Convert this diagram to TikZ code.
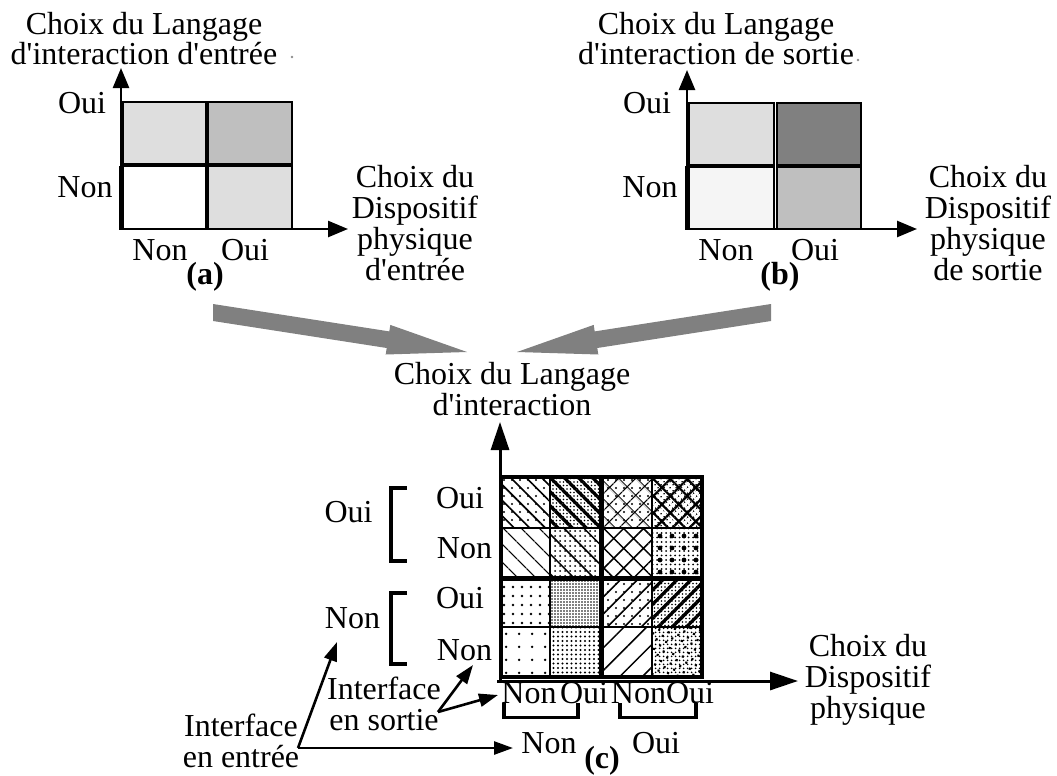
\documentclass[tikz,border=0pt]{standalone}
\usepackage{fontspec}
\setmainfont[Ligatures=TeXOff]{Liberation Serif}
\usetikzlibrary{arrows.meta,patterns.meta}
\begin{document}
\begin{tikzpicture}[x=1pt,y=-1pt,
  lbl/.style={font=\fontsize{32}{31}\selectfont, inner sep=0pt, anchor=base, align=center},
  blbl/.style={lbl, font=\fontsize{32}{31}\selectfont\bfseries},
  cellbox/.style={draw=black, line width=1.6pt},
  axisab/.style={line width=2.5pt, -{Triangle[length=20pt,width=16pt]}},
  axisc/.style={line width=3pt, -{Triangle[length=28pt,width=18pt]}},
  sarrow/.style={line width=2.6pt, -{Triangle[length=19pt,width=13pt]}},
  bigarrow/.style={fill=black!50},
  brk/.style={line width=4.5pt, line join=miter}
]
\useasboundingbox (0,0) rectangle (1057,776);

% ---------- panel (a) ----------
\coordinate (ao) at (121,229);
\coordinate (ay) at (121,68);
\coordinate (ax) at (348,229);
\draw[axisab] (ao) -- (ay);
\draw[line width=4pt] (121,166) -- (121,230);
\draw[axisab] (ao) -- (ax);
\filldraw[cellbox, fill=black!13] (123,102) rectangle (206,164);
\filldraw[cellbox, fill=black!25] (208,102) rectangle (292,164);
\filldraw[cellbox, fill=white]    (123,166) rectangle (206,229);
\filldraw[cellbox, fill=black!13] (208,166) rectangle (292,229);
\node[lbl] (aOui) at (82,113) {Oui};
\node[lbl] (aNon) at (85,197) {Non};
\node[lbl] (aN) at (160,260) {Non};
\node[lbl] (aO) at (245,260) {Oui};
\node[blbl] (alab) at (205,284) {(a)};
\node[lbl] (axt) at (415,280) {Choix du\\Dispositif\\physique\\d'entrée};
\node[lbl] (ayt) at (144,65) {Choix du Langage\\d'interaction d'entrée};
\fill[black!45] (292,57) circle (1.3pt);

% ---------- panel (b) ----------
\coordinate (bo) at (687,229);
\coordinate (by) at (687,70);
\coordinate (bx) at (917,229);
\draw[axisab] (bo) -- (by);
\draw[line width=4pt] (687,166) -- (687,230);
\draw[axisab] (bo) -- (bx);
\filldraw[cellbox, fill=black!13] (689,103) rectangle (774,165);
\filldraw[cellbox, fill=black!50] (777,103) rectangle (861,165);
\filldraw[cellbox, fill=black!4]  (689,167) rectangle (774,229);
\filldraw[cellbox, fill=black!25] (777,167) rectangle (861,229);
\node[lbl] (bOui) at (647,113) {Oui};
\node[lbl] (bNon) at (650,197) {Non};
\node[lbl] (bN) at (726,260) {Non};
\node[lbl] (bO) at (815,260) {Oui};
\node[blbl] (blab) at (780,284) {(b)};
\node[lbl] (bxt) at (988,280) {Choix du\\Dispositif\\physique\\de sortie};
\node[lbl] (byt) at (716,65) {Choix du Langage\\d'interaction de sortie};
\fill[black!45] (858,60) circle (1.3pt);

% ---------- big gray arrows ----------
\fill[bigarrow] (213,304) -- (389.3,331.4) -- (390.3,324.9) -- (467,352) -- (385.7,354.5) -- (386.7,348) -- (213,321) -- cycle;
\fill[bigarrow] (771,304) -- (594.7,331.4) -- (593.7,324.9) -- (517,352) -- (598.3,354.5) -- (597.3,348) -- (771,321) -- cycle;

\node[lbl] (cL) at (512,415) {Choix du Langage\\d'interaction};

% ---------- panel (c) ----------
\coordinate (co) at (500,681);
\coordinate (cy) at (500,422);
\coordinate (cx0) at (497,681);
\coordinate (cx) at (798,681);
\draw[axisc] (co) -- (cy);
\draw[axisc] (cx0) -- (cx);

% row 1
\fill[pattern={Lines[angle=-45,distance=11pt,line width=1.6pt]}] (501,477) rectangle (550,528);
\fill[pattern={Dots[distance=8pt,radius=1.2pt]}] (501,477) rectangle (550,528);
\fill[pattern={Lines[angle=-45,distance=10pt,line width=3.2pt]}] (550,477) rectangle (601,528);
\fill[pattern={Dots[distance=3.5pt,radius=0.8pt]}] (550,477) rectangle (601,528);
\fill[pattern={Hatch[angle=45,distance=13pt,line width=1.4pt]}] (601,477) rectangle (652,528);
\fill[pattern={Dots[distance=8pt,radius=1.2pt]}] (601,477) rectangle (652,528);
\fill[pattern={Hatch[angle=45,distance=12pt,line width=2.2pt]}] (652,477) rectangle (702,528);
\fill[pattern={Dots[distance=4pt,radius=0.9pt,angle=45]}] (652,477) rectangle (702,528);
% row 2
\fill[pattern={Lines[angle=-45,distance=13pt,line width=1.5pt]}] (501,528) rectangle (550,578);
\fill[pattern={Dots[distance=5pt,radius=1pt]}] (550,528) rectangle (601,578);
\fill[pattern={Lines[angle=-45,distance=14pt,line width=1.5pt]}] (550,528) rectangle (601,578);
\fill[pattern={Hatch[angle=45,distance=14pt,line width=1.5pt]}] (601,528) rectangle (652,578);
\fill[pattern={Dots[distance=4.5pt,radius=1pt]}] (652,528) rectangle (702,578);
\fill[pattern={Dots[distance=12pt,radius=2.4pt]}] (652,528) rectangle (702,578);
% row 3
\fill[pattern={Dots[distance=9pt,radius=1.4pt]}] (501,578) rectangle (550,627);
\fill[pattern={Dots[distance=3pt,radius=0.9pt]}] (550,578) rectangle (601,627);
\fill[pattern={Lines[angle=45,distance=12pt,line width=1.6pt]}] (601,578) rectangle (652,627);
\fill[pattern={Dots[distance=8pt,radius=1.2pt]}] (601,578) rectangle (652,627);
\fill[pattern={Lines[angle=45,distance=10pt,line width=3.2pt]}] (652,578) rectangle (702,627);
\fill[pattern={Dots[distance=3.5pt,radius=0.8pt]}] (652,578) rectangle (702,627);
% row 4
\fill[pattern={Dots[distance=13pt,radius=1.4pt]}] (501,627) rectangle (550,677);
\fill[pattern={Dots[distance=4.5pt,radius=1.1pt]}] (550,627) rectangle (601,677);
\fill[pattern={Lines[angle=45,distance=16pt,line width=1.5pt]}] (601,627) rectangle (652,677);
\fill[pattern={Dots[distance=4pt,radius=1.1pt]}] (652,627) rectangle (702,677);
\fill[pattern={Dots[distance=7pt,radius=1.5pt,angle=30]}] (652,627) rectangle (702,677);

% grid lines
\draw[line width=1.8pt] (550,477) -- (550,677) (652,477) -- (652,677)
      (501,528) -- (702,528) (501,627) -- (702,627);
\draw[line width=5pt] (601,477) -- (601,677) (501,578) -- (702,578);
\draw[line width=4.5pt] (501,477) rectangle (702,677);

% left labels and brackets
\node[lbl] (gOui) at (348.5,522) {Oui};
\node[lbl] (gNon) at (352.5,628) {Non};
\node[lbl] (r1) at (460,508) {Oui};
\node[lbl] (r2) at (464.5,558) {Non};
\node[lbl] (r3) at (460,608) {Oui};
\node[lbl] (r4) at (464.5,660) {Non};
\draw[brk] (407,488) -- (391,488) -- (391,561) -- (407,561);
\draw[brk] (407,593) -- (391,593) -- (391,664) -- (407,664);

% bottom labels and braces
\node[lbl] (b1) at (529,703) {Non};
\node[lbl] (b2) at (584,703) {Oui};
\node[lbl] (b3) at (638.5,703) {Non};
\node[lbl] (b4) at (690,703) {Oui};
\draw[line width=3.5pt, line join=miter] (504,703) -- (504,717.5) -- (578,717.5) -- (578,703);
\draw[line width=3.5pt, line join=miter] (620,703) -- (620,717.5) -- (696,717.5) -- (696,703);
\node[lbl] (bNon) at (549,753) {Non};
\node[lbl] (bOui) at (656,753) {Oui};
\node[blbl] (clab) at (602,768) {(c)};

\node[lbl] (cxt) at (868,718) {Choix du\\Dispositif\\physique};

% interface labels and arrows
\node[lbl] (ient) at (241,767) {Interface\\en entrée};
\node[lbl] (isor) at (384,730) {Interface\\en sortie};
\coordinate (ie) at (298,748);
\coordinate (ieA) at (337,642);
\coordinate (ieB) at (513,748);
\coordinate (is) at (438,712);
\coordinate (isA) at (473,665);
\coordinate (isB) at (498,695);
\draw[sarrow] (ie) -- (ieA);
\draw[sarrow] (ie) -- (ieB);
\draw[sarrow] (is) -- (isA);
\draw[sarrow] (is) -- (isB);
\end{tikzpicture}
\end{document}
